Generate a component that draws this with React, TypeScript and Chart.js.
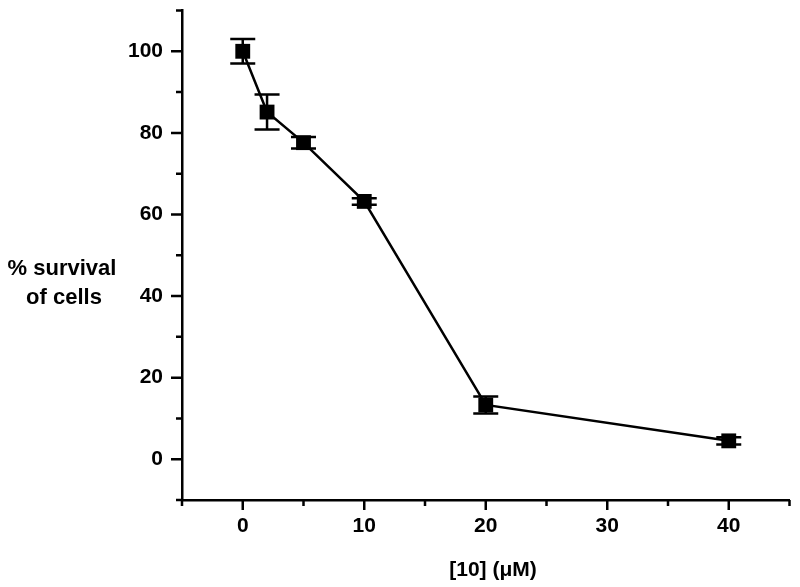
import React, { useEffect, useRef } from "react";
import { Chart, registerables } from "chart.js";

Chart.register(...registerables);

const concentrations = [0, 2, 5, 10, 20, 40];
const survival = [100, 85.1, 77.6, 63.2, 13.3, 4.5];
const errors = [3.0, 4.3, 1.4, 0.8, 2.1, 0.9];
const xMajorTicks = [0, 10, 20, 30, 40];
const yMajorTicks = [0, 20, 40, 60, 80, 100];
const yTitleLines = ["% survival", "of cells"];
const xTitle = "[10] (\u03BCM)";

const FONT = "'Liberation Sans', Arial, sans-serif";

const errorBarPlugin = {
  id: "errorBars",
  afterDatasetsDraw(chart: any) {
    const xs = chart.scales.x;
    const ys = chart.scales.y;
    const ctx = chart.ctx;
    ctx.save();
    ctx.strokeStyle = "#000";
    ctx.lineWidth = 2.5;
    concentrations.forEach((c, i) => {
      const px = xs.getPixelForValue(c);
      const hi = ys.getPixelForValue(survival[i] + errors[i]);
      const lo = ys.getPixelForValue(survival[i] - errors[i]);
      ctx.beginPath();
      ctx.moveTo(px, hi);
      ctx.lineTo(px, lo);
      ctx.moveTo(px - 12.5, hi);
      ctx.lineTo(px + 12.5, hi);
      ctx.moveTo(px - 12.5, lo);
      ctx.lineTo(px + 12.5, lo);
      ctx.stroke();
    });
    ctx.restore();
  },
};

const axisDecorPlugin = {
  id: "axisDecor",
  afterDraw(chart: any) {
    const xs = chart.scales.x;
    const ys = chart.scales.y;
    const ctx = chart.ctx;
    const area = chart.chartArea;
    ctx.save();
    ctx.strokeStyle = "#000";
    ctx.lineWidth = 2.5;
    ctx.beginPath();
    for (let v = xs.min; v <= xs.max + 0.001; v += 5) {
      const px = xs.getPixelForValue(v);
      const len = xMajorTicks.includes(v) ? 10 : 6;
      ctx.moveTo(px, area.bottom);
      ctx.lineTo(px, area.bottom + len);
    }
    for (let v = ys.min; v <= ys.max + 0.001; v += 10) {
      const py = ys.getPixelForValue(v);
      const len = yMajorTicks.includes(v) ? 11 : 6;
      ctx.moveTo(area.left, py);
      ctx.lineTo(area.left - len, py);
    }
    ctx.stroke();

    ctx.fillStyle = "#000";
    ctx.textAlign = "center";
    ctx.textBaseline = "middle";
    ctx.font = `bold 22px ${FONT}`;
    ctx.fillText(yTitleLines[0], 62, 269);
    ctx.fillText(yTitleLines[1], 64, 298);
    ctx.font = `bold 21px ${FONT}`;
    ctx.fillText(xTitle, 493, 570);
    ctx.restore();
  },
};

export default function App() {
  const canvasRef = useRef<HTMLCanvasElement | null>(null);

  useEffect(() => {
    if (!canvasRef.current) return;
    const chart = new Chart(canvasRef.current, {
      type: "line",
      data: {
        datasets: [
          {
            data: concentrations.map((c, i) => ({ x: c, y: survival[i] })),
            borderColor: "#000",
            backgroundColor: "#000",
            borderWidth: 2.5,
            pointStyle: "rect",
            pointRadius: 10.5,
            pointBorderWidth: 0,
            pointBackgroundColor: "#000",
            tension: 0,
            clip: false as any,
          },
        ],
      },
      options: {
        animation: false,
        responsive: false,
        layout: { padding: { top: 7, right: 8, left: 0, bottom: 0 } },
        plugins: {
          legend: { display: false },
          tooltip: { enabled: false },
          title: { display: false },
        },
        scales: {
          x: {
            type: "linear",
            min: -5,
            max: 45,
            grid: { display: false, drawTicks: false },
            border: { display: true, color: "#000", width: 2.5 },
            afterFit: (s: any) => {
              s.height = 87;
              s.paddingLeft = 0;
              s.paddingRight = 0;
            },
            ticks: {
              stepSize: 5,
              autoSkip: false,
              maxRotation: 0,
              padding: 14,
              color: "#000",
              font: { family: FONT, size: 21, weight: "bold" },
              callback: (v: any) => (xMajorTicks.includes(Number(v)) ? String(v) : ""),
            },
          },
          y: {
            type: "linear",
            min: -10,
            max: 110,
            grid: { display: false, drawTicks: false },
            border: { display: true, color: "#000", width: 2.5 },
            afterFit: (s: any) => {
              s.width = 182;
              s.paddingTop = 0;
              s.paddingBottom = 0;
            },
            ticks: {
              stepSize: 10,
              autoSkip: false,
              padding: 19,
              color: "#000",
              font: { family: FONT, size: 21, weight: "bold" },
              callback: (v: any) => (yMajorTicks.includes(Number(v)) ? String(v) : ""),
            },
          },
        },
      },
      plugins: [errorBarPlugin, axisDecorPlugin],
    });
    return () => chart.destroy();
  }, []);

  return (
    <div style={{ position: "absolute", left: 0, top: 0, width: 800, height: 587, background: "#fff" }}>
      <canvas ref={canvasRef} width={800} height={587} />
    </div>
  );
}
